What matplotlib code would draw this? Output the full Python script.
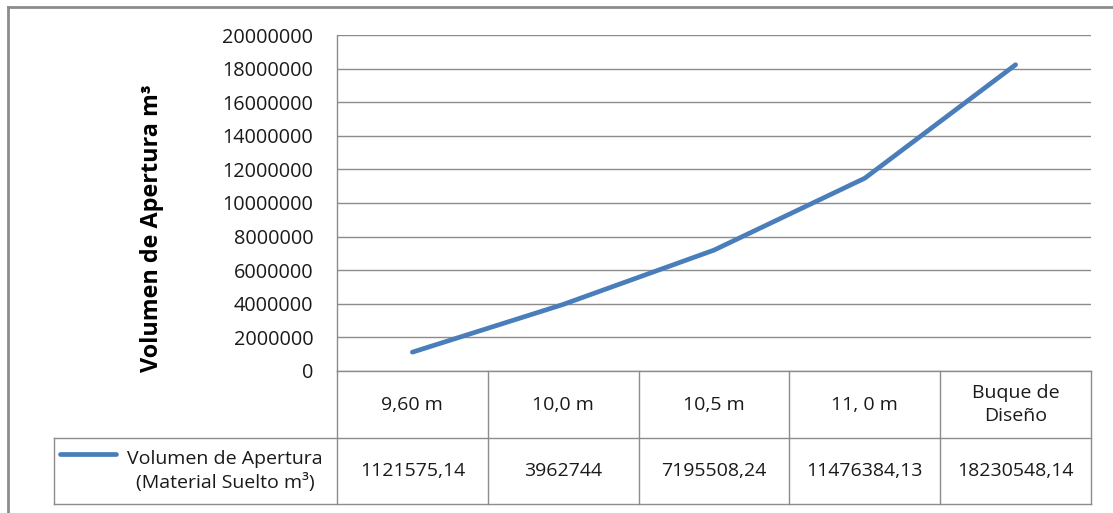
import matplotlib
matplotlib.use("Agg")
import matplotlib.pyplot as plt
from matplotlib.lines import Line2D

plt.rcParams['font.family'] = ['Open Sans', 'DejaVu Sans']

# Data
categories = ["9,60 m", "10,0 m", "10,5 m", "11, 0 m", "Buque de\nDiseño"]
volumes = [1121575.14, 3962744, 7195508.24, 11476384.13, 18230548.14]
series_name = "Volumen de Apertura\n(Material Suelto m³)"
y_ticks = [0, 2000000, 4000000, 6000000, 8000000, 10000000,
           12000000, 14000000, 16000000, 18000000, 20000000]
y_label = "Volumen de Apertura m³"

W, H = 1113, 513
fig = plt.figure(figsize=(W / 100, H / 100), dpi=100)

# Plot area in pixel terms
px_left, px_right, px_top, px_bottom = 337, 1091, 35, 371
ax = fig.add_axes([px_left / W, 1 - px_bottom / H,
                   (px_right - px_left) / W, (px_bottom - px_top) / H])

line_color = "#4A7EBB"
grid_color = "#8C8C8C"
text_color = "#1a1a1a"
fs = 14

x = list(range(len(categories)))
ax.plot(x, volumes, color=line_color, lw=3.4, solid_capstyle='round',
        solid_joinstyle='round', zorder=3)

ax.set_xlim(-0.5, len(categories) - 0.5)
ax.set_ylim(0, 20000000)
ax.set_yticks(y_ticks)
ax.set_yticklabels([str(v) for v in y_ticks], fontsize=14.3, color=text_color)
ax.tick_params(axis='y', length=0, pad=17)
ax.set_xticks([])
ax.grid(axis='y', color=grid_color, lw=1.0)
ax.set_axisbelow(True)
for s in ['top', 'right', 'bottom']:
    ax.spines[s].set_visible(False)
ax.spines['left'].set_color(grid_color)
ax.spines['left'].set_linewidth(1.0)

ax.set_ylabel(y_label, fontsize=16.8, fontweight='bold', color='black', labelpad=0)
ax.yaxis.set_label_coords((164 - px_left) / (px_right - px_left), 0.425)

# Data table below the plot area
ph = px_bottom - px_top
pw = px_right - px_left
row1 = -(438 - px_bottom) / ph
row2 = -(504 - px_bottom) / ph
leg_left = (54 - px_left) / pw

tr = ax.get_xaxis_transform()
lkw = dict(color=grid_color, lw=1.0, clip_on=False)

# horizontal rules
ax.add_line(Line2D([-0.5, len(categories) - 0.5], [0, 0], transform=tr, **lkw))
ax.add_line(Line2D([-0.5, len(categories) - 0.5], [row1, row1], transform=tr, **lkw))
ax.add_line(Line2D([leg_left, 0], [row1, row1], transform=ax.transAxes, **lkw))
ax.add_line(Line2D([leg_left, 1], [row2, row2], transform=ax.transAxes, **lkw))
ax.add_line(Line2D([leg_left, leg_left], [row1, row2], transform=ax.transAxes, **lkw))
# vertical rules
for b in [i - 0.5 for i in range(len(categories) + 1)]:
    ax.add_line(Line2D([b, b], [0, row2], transform=tr, **lkw))

for i, (c, v) in enumerate(zip(categories, volumes)):
    ax.text(i, row1 / 2, c, transform=tr, ha='center', va='center',
            fontsize=fs, color=text_color, linespacing=1.3)
    label = str(int(v)) if float(v).is_integer() else f"{v:.2f}".replace('.', ',')
    ax.text(i, (row1 + row2) / 2, label, transform=tr, ha='center', va='center',
            fontsize=fs, color=text_color)

# legend key inside the table
ky = (row1 + row2) / 2 + (472 - 455) / ph
ax.add_line(Line2D([(60 - px_left) / pw, (116 - px_left) / pw], [ky, ky],
                   transform=ax.transAxes, color=line_color, lw=3.4,
                   solid_capstyle='round', clip_on=False))
ax.text((225 - px_left) / pw, (row1 + row2) / 2, series_name, transform=ax.transAxes,
        ha='center', va='center', fontsize=fs, color=text_color, linespacing=1.3)

# outer chart frame
fkw = dict(color="#8C8C8C", lw=2.0)
fig.add_artist(Line2D([8 / W, 1], [1 - 7 / H, 1 - 7 / H], transform=fig.transFigure, **fkw))
fig.add_artist(Line2D([8 / W, 8 / W], [1 - 7 / H, 0], transform=fig.transFigure, **fkw))

fig.savefig("out.png", dpi=100, facecolor='white')
